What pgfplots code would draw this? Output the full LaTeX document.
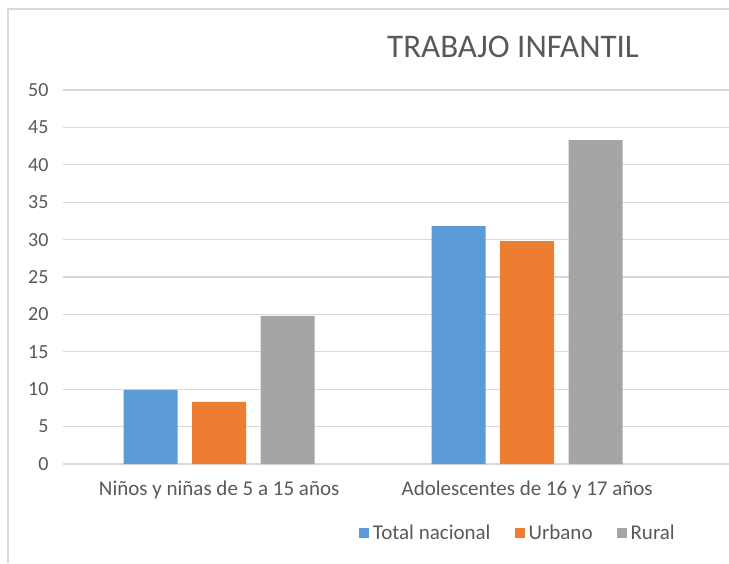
\documentclass[border=0pt]{standalone}
\usepackage{pgfplots}
\pgfplotsset{compat=1.18}
\usepackage{fontspec}
\setmainfont{Carlito}
\definecolor{cblue}{HTML}{5B9BD5}
\definecolor{corange}{HTML}{ED7D31}
\definecolor{cgray}{HTML}{A5A5A5}
\definecolor{gridc}{HTML}{D9D9D9}
\definecolor{txt}{HTML}{595959}
\begin{document}
\begin{tikzpicture}[x=1pt,y=1pt]
\path[use as bounding box] (0,0) rectangle (729,563);
\draw[color=gridc, line width=1.2pt] (8,0) -- (8,554) -- (729,554);
\node[text=txt, font=\fontsize{33}{35}\selectfont] at (513,516) {TRABAJO INFANTIL};
\begin{axis}[
  at={(63pt,99pt)}, anchor=south west, scale only axis,
  width=666pt, height=374pt,
  xmin=-0.507, xmax=1.6553, ymin=0, ymax=50,
  ybar=14.5pt, bar width=54pt,
  xtick={0,1},
  xticklabels={Niños y niñas de 5 a 15 años, Adolescentes de 16 y 17 años},
  ytick={0,5,...,50},
  axis line style={draw=none},
  major tick length=0pt,
  ymajorgrids, grid style={color=gridc, line width=1.2pt},
  tick label style={text=txt, font=\fontsize{21}{23}\selectfont},
  /pgf/number format/assume math mode=true,
  yticklabel style={xshift=-11pt, font=\fontsize{20}{22}\selectfont},
  xticklabel style={yshift=-13pt},
  legend columns=3,
  legend style={at={(0.683,-0.1845)}, anchor=center, draw=none, fill=none,
    font=\fontsize{21}{23}\selectfont, text=txt,
    /tikz/every odd column/.append style={column sep=2pt},
    /tikz/every even column/.append style={column sep=22pt}},
  legend image code/.code={\fill[#1] (0pt,-5pt) rectangle (10pt,5pt);},
]
\addplot[fill=cblue, draw=none] coordinates {(0,9.9) (1,31.8)};
\addplot[fill=corange, draw=none] coordinates {(0,8.3) (1,29.8)};
\addplot[fill=cgray, draw=none] coordinates {(0,19.8) (1,43.3)};
\legend{Total nacional, Urbano, Rural}
\end{axis}
\end{tikzpicture}
\end{document}
